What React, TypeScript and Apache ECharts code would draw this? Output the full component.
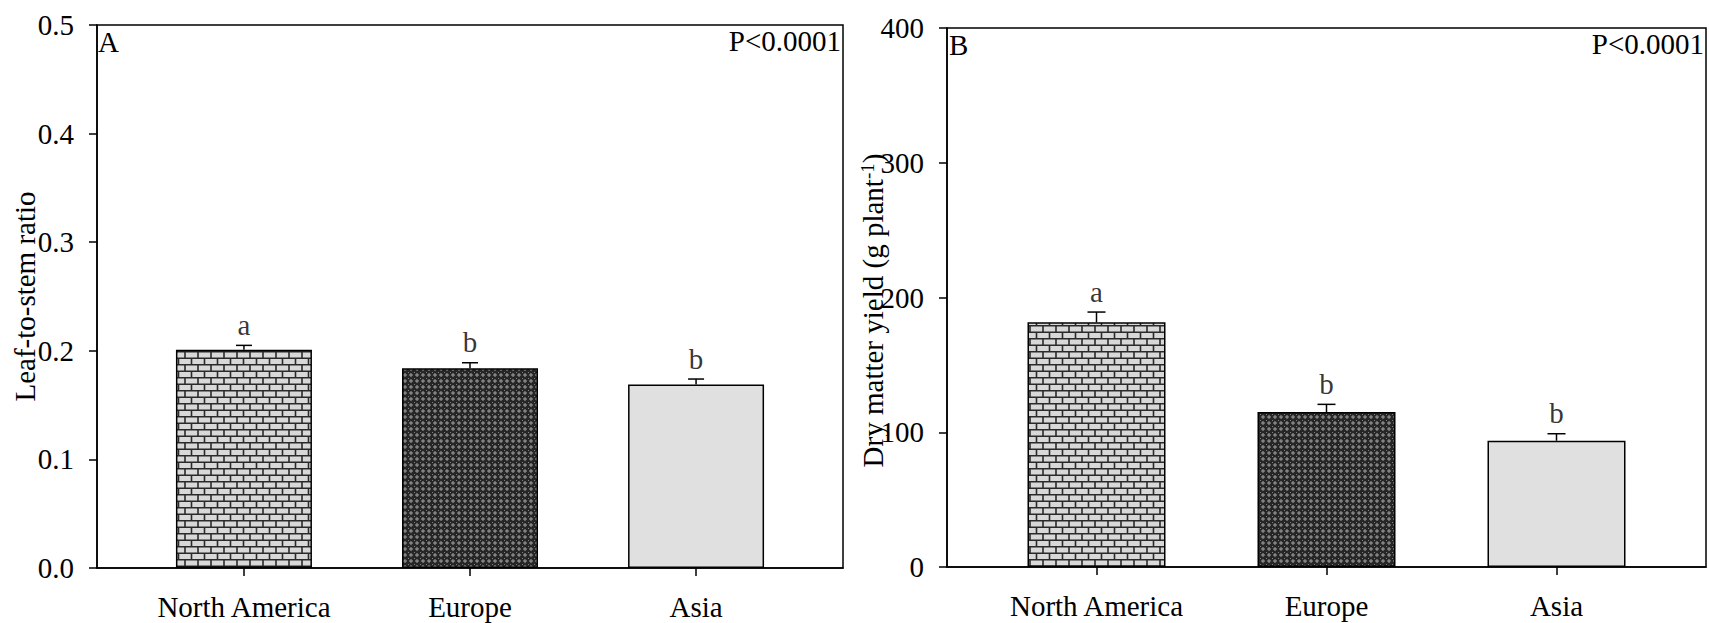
import React, { useEffect, useRef } from 'react';
import * as echarts from 'echarts';

// ---------- data ----------
const categories = ['North America', 'Europe', 'Asia'];
const categoryPositions = [1, 2, 3];

const leafStemMean = [0.201, 0.184, 0.169];
const leafStemSE = [0.004, 0.005, 0.005];
const leafStemLetters = ['a', 'b', 'b'];
const leafStemTicks = [0, 0.1, 0.2, 0.3, 0.4, 0.5];

const yieldMean = [181.6, 115.0, 93.7];
const yieldSE = [7.6, 5.7, 5.2];
const yieldLetters = ['a', 'b', 'b'];
const yieldTicks = [0, 100, 200, 300, 400];

const panelLabels = ['A', 'B'];
const pValueText = 'P<0.0001';

// ---------- styles ----------
const FONT = '"Liberation Serif", "Times New Roman", serif';
const FS = 29;

const svgUrl = (s: string) => 'data:image/svg+xml;charset=utf-8,' + encodeURIComponent(s);

const brickSvg =
  '<svg xmlns="http://www.w3.org/2000/svg" width="13" height="13">' +
  '<rect width="13" height="13" fill="#d8d8d8"/>' +
  '<g stroke="#2a2a2a" stroke-width="1.6" fill="none">' +
  '<path d="M0 0.8H13M0 7.3H13M3 0.8V7.3M9.5 7.3V13"/></g></svg>';

const meshSvg =
  '<svg xmlns="http://www.w3.org/2000/svg" width="6" height="6">' +
  '<rect width="6" height="6" fill="#262626"/>' +
  '<rect x="2.5" y="1" width="1" height="4" fill="#a0a0a0"/>' +
  '<rect x="1" y="2.5" width="4" height="1" fill="#a0a0a0"/>' +
  '<rect x="0" y="0" width="1" height="1" fill="#808080"/>' +
  '</svg>';

const fills: any[] = [
  { image: svgUrl(brickSvg), repeat: 'repeat', imageWidth: 13, imageHeight: 13 },
  { image: svgUrl(meshSvg), repeat: 'repeat', imageWidth: 6, imageHeight: 6 },
  '#e0e0e0',
];

function buildPanel(
  idx: number,
  means: number[],
  ses: number[],
  letters: string[],
  barWidth: number,
  capHalf: number
) {
  const bars = {
    type: 'bar',
    xAxisIndex: idx,
    yAxisIndex: idx,
    barWidth,
    z: 2,
    data: categoryPositions.map((x, i) => ({
      value: [x, means[i]],
      itemStyle: { color: fills[i], borderColor: '#000', borderWidth: 1.5 },
    })),
  };
  const errors = {
    type: 'custom',
    xAxisIndex: idx,
    yAxisIndex: idx,
    z: 3,
    encode: { x: 0, y: 1 },
    data: categoryPositions.map((x, i) => [x, means[i], ses[i]]),
    renderItem: (params: any, api: any) => {
      const x = api.value(0);
      const m = api.value(1);
      const e = api.value(2);
      const b = api.coord([x, m]);
      const t = api.coord([x, m + e]);
      const st = { stroke: '#000', lineWidth: 1.5 };
      return {
        type: 'group',
        children: [
          { type: 'line', shape: { x1: b[0], y1: b[1], x2: t[0], y2: t[1] }, style: st },
          { type: 'line', shape: { x1: t[0] - capHalf, y1: t[1], x2: t[0] + capHalf, y2: t[1] }, style: st },
        ],
      };
    },
  };
  const lettersSeries = {
    type: 'scatter',
    xAxisIndex: idx,
    yAxisIndex: idx,
    symbolSize: 0,
    z: 4,
    data: categoryPositions.map((x, i) => [x, means[i] + ses[i]]),
    label: {
      show: true,
      position: 'top',
      distance: 6,
      formatter: (p: any) => letters[p.dataIndex],
      color: '#000',
      fontFamily: FONT,
      fontSize: FS,
    },
  };
  return [bars, errors, lettersSeries];
}

function xAxis(gridIndex: number) {
  return {
    type: 'value',
    gridIndex,
    min: 0.35,
    max: 3.65,
    axisLine: { show: true, lineStyle: { color: '#000', width: 1.5 } },
    axisTick: { show: true, customValues: categoryPositions, length: 8, lineStyle: { color: '#000', width: 1.5 } },
    axisLabel: {
      show: true,
      customValues: categoryPositions,
      formatter: (v: number) => categories[Math.round(v) - 1] ?? '',
      margin: 24,
      color: '#000',
      fontFamily: FONT,
      fontSize: FS,
    },
    splitLine: { show: false },
  };
}

function yAxis(
  gridIndex: number,
  ticks: number[],
  decimals: number,
  name: string,
  nameGap: number,
  rich?: any,
  padding?: number[]
) {
  return {
    type: 'value',
    gridIndex,
    min: ticks[0],
    max: ticks[ticks.length - 1],
    interval: ticks[1] - ticks[0],
    name,
    nameLocation: 'middle',
    nameGap,
    nameMoveOverlap: false,
    nameTextStyle: { color: '#000', fontFamily: FONT, fontSize: FS, rich, padding },
    axisLine: { show: true, lineStyle: { color: '#000', width: 1.5 } },
    axisTick: { show: true, length: 8, lineStyle: { color: '#000', width: 1.5 } },
    axisLabel: {
      margin: 23,
      color: '#000',
      fontFamily: FONT,
      fontSize: FS,
      formatter: (v: number) => v.toFixed(decimals),
    },
    splitLine: { show: false },
  };
}

export default function App() {
  const ref = useRef<HTMLDivElement>(null);
  useEffect(() => {
    if (!ref.current) return;
    const chart = echarts.init(ref.current, undefined, { renderer: 'svg' });
    const textStyle = { fill: '#000', font: `${FS}px ${FONT}` };
    chart.setOption({
      animation: false,
      backgroundColor: '#fff',
      grid: [
        { left: 97, top: 25, right: 866, bottom: 55, show: true, borderColor: '#000', borderWidth: 1.5, backgroundColor: 'transparent' },
        { left: 947, top: 28, right: 3, bottom: 56, show: true, borderColor: '#000', borderWidth: 1.5, backgroundColor: 'transparent' },
      ],
      xAxis: [xAxis(0), xAxis(1)],
      yAxis: [
        yAxis(0, leafStemTicks, 1, 'Leaf-to-stem ratio', 58),
        yAxis(
          1,
          yieldTicks,
          0,
          '{m|Dry matter yield (g plant}{sup|-1}{m|)}',
          60,
          {
            m: { fontFamily: FONT, fontSize: FS, lineHeight: FS, verticalAlign: 'bottom', color: '#000' },
            sup: { fontFamily: FONT, fontSize: 19, lineHeight: 18, verticalAlign: 'top', padding: [0, 0, 26, 0], color: '#000' },
          },
          [0, 26, 0, 0]
        ),
      ],
      graphic: [
        { type: 'text', left: 98, top: 27, style: { ...textStyle, text: panelLabels[0] } },
        { type: 'text', left: 949, top: 30, style: { ...textStyle, text: panelLabels[1] } },
        { type: 'text', right: 1709 - 841, top: 26, style: { ...textStyle, text: pValueText } },
        { type: 'text', right: 5, top: 29, style: { ...textStyle, text: pValueText } },
      ],
      series: [
        ...buildPanel(0, leafStemMean, leafStemSE, leafStemLetters, 136, 8),
        ...buildPanel(1, yieldMean, yieldSE, yieldLetters, 138, 9),
      ],
    });
    return () => chart.dispose();
  }, []);
  return <div ref={ref} style={{ position: 'absolute', left: 0, top: 0, width: 1709, height: 623 }} />;
}
